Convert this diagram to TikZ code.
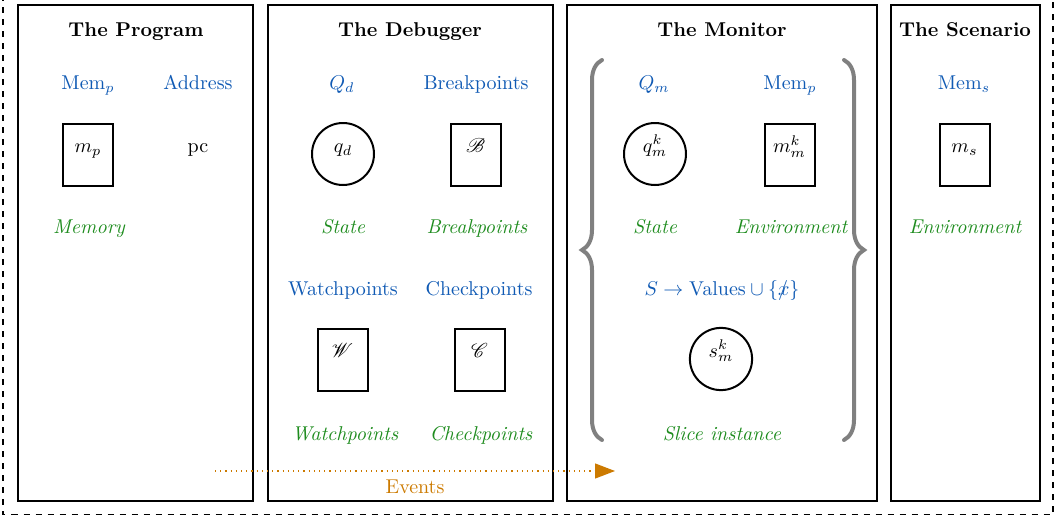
\documentclass[tikz,border=0pt]{standalone}
\definecolor{myBlue}{RGB}{16,90,180}
\definecolor{myGreen}{RGB}{30,140,30}
\definecolor{myOrange}{RGB}{204,122,0}
\definecolor{myGray}{RGB}{128,128,128}
\usepackage{amsmath,amsfonts}
\usepackage{mathrsfs}
\usepackage{mathtools}
\usepackage{tikz}
\usetikzlibrary{arrows.meta,decorations.pathreplacing}
\tikzset{
  panel/.style={draw, line width=0.9pt},
  heading/.style={anchor=base, font=\bfseries},
  blueLbl/.style={anchor=base, text=myBlue},
  greenLbl/.style={anchor=base, text=myGreen, font=\itshape},
  memBox/.style={draw, line width=1pt, rectangle, minimum width=25pt, minimum height=31pt, text height=8pt, text depth=10pt},
  stateCirc/.style={draw, line width=1pt, circle, minimum size=31pt, text height=8pt, text depth=10pt},
  setBrace/.style={draw=myGray, line width=2pt, line cap=round, decorate, decoration={brace, amplitude=10pt}}
}

\begin{document}
\begin{tikzpicture}[x=0.5pt, y=-0.5pt]
                \useasboundingbox (0,0) rectangle (1062,520);
                \draw[thick, dashed] (3,-5) rectangle (1053,514.5);

                \draw[panel] (18,5) rectangle (253,501);
                \draw[panel] (268,5) rectangle (553,501);
                \draw[panel] (567,5) rectangle (877,501);
                \draw[panel] (891,5) rectangle (1040,501);

                % program
                \node[heading] (progTitle) at (136,36) {The Program};
                \node[blueLbl] (progMem) at (88,89) {Mem$_p$};
                \node[blueLbl] (progAddr) at (198,89) {Address};
                \node[memBox] (mp) at (88,154.5) {$m_p$};
                \node[anchor=base] (pc) at (198,152) {pc};
                \node[greenLbl] (progMemNote) at (89,233) {Memory};

                % debugger
                \node[heading] (dbgTitle) at (410,36) {The Debugger};
                \node[blueLbl] (dbgQ) at (342,89) {$Q_d$};
                \node[blueLbl] (dbgBp) at (476,89) {Breakpoints};
                \node[stateCirc] (qd) at (343,154) {$q_d$};
                \node[memBox] (bp) at (475.5,154.5) {$\mathscr{B}$};
                \node[greenLbl] (dbgStateNote) at (343,233) {State};
                \node[greenLbl] (dbgBpNote) at (477,233) {Breakpoints};
                \node[blueLbl] (dbgWp) at (343,295) {Watchpoints};
                \node[blueLbl] (dbgCp) at (479,295) {Checkpoints};
                \node[memBox] (wp) at (342.5,359.5) {$\mathscr{W}$};
                \node[memBox] (cp) at (479.5,359.5) {$\mathscr{C}$};
                \node[greenLbl] (dbgWpNote) at (345,440) {Watchpoints};
                \node[greenLbl] (dbgCpNote) at (481,440) {Checkpoints};

                % monitor
                \node[heading] (monTitle) at (722,36) {The Monitor};
                \node[blueLbl] (monQ) at (654,89) {$Q_m$};
                \node[blueLbl] (monMem) at (790,89) {Mem$_p$};
                \node[stateCirc] (qm) at (655,154) {$q_m^k$};
                \node[memBox] (mm) at (789.5,154.5) {$m_m^k$};
                \node[greenLbl] (monStateNote) at (655,233) {State};
                \node[greenLbl] (monEnvNote) at (791,233) {Environment};
                \node[blueLbl] (monMap) at (722,295) {$S \rightarrow \mathrm{Values} \cup \{\mathrlap{/}x\}$};
                \node[stateCirc] (sm) at (721,359) {$s_m^k$};
                \node[greenLbl] (monSliceNote) at (722,440) {Slice instance};

                \coordinate (braceTopL) at (602,60);
                \coordinate (braceBotL) at (602,440);
                \coordinate (braceTopR) at (844,60);
                \coordinate (braceBotR) at (844,440);
                \draw[setBrace] (braceBotL) -- (braceTopL);
                \draw[setBrace] (braceTopR) -- (braceBotR);

                % scenario
                \node[heading] (scnTitle) at (965,36) {The Scenario};
                \node[blueLbl] (scnMem) at (964,89) {Mem$_s$};
                \node[memBox] (ms) at (964.5,154.5) {$m_s$};
                \node[greenLbl] (scnEnvNote) at (965,233) {Environment};

                % events
                \coordinate (evFrom) at (215,471);
                \coordinate (evTo) at (615,471);
                \draw[semithick, dotted, myOrange, -{Triangle[length=10pt,width=7.5pt]}] (evFrom) -- node[below=1pt, text=myOrange] (evLbl) {Events} (evTo);
            \end{tikzpicture}
\end{document}
